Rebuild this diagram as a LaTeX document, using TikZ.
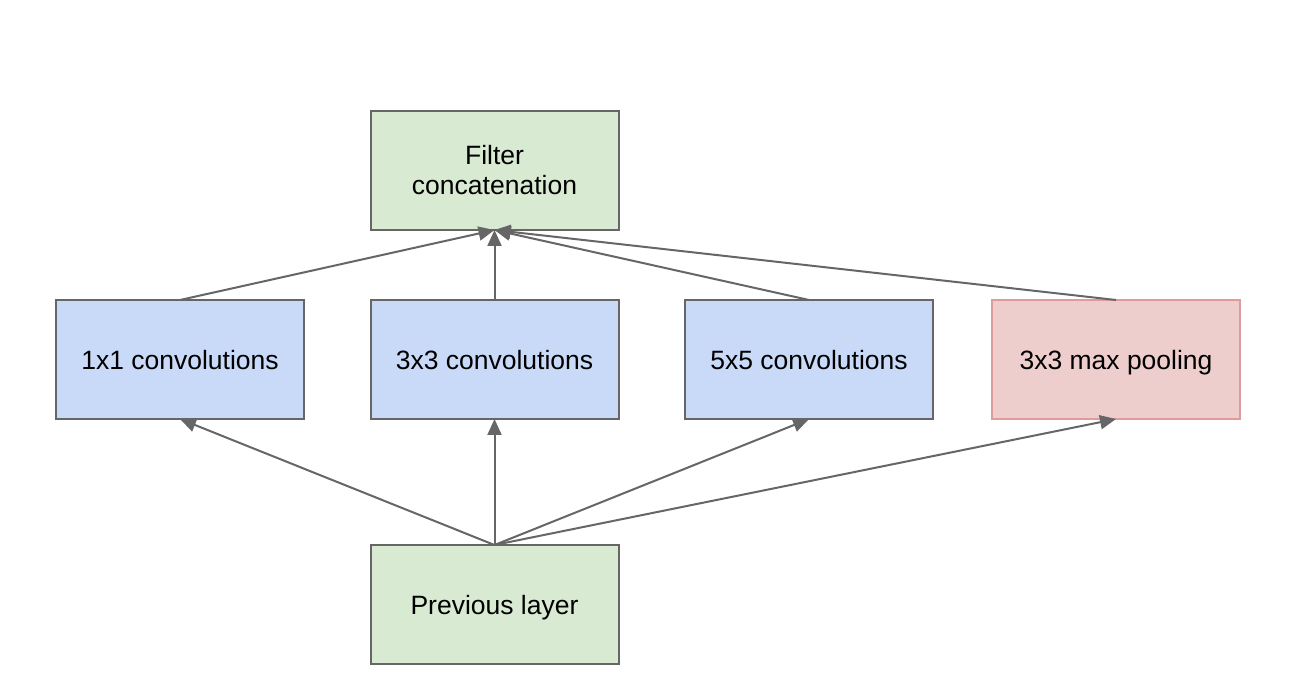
\documentclass[tikz,border=0pt]{standalone}
\usepackage{fontspec}
\setmainfont{Liberation Sans}
\usetikzlibrary{arrows.meta}
\definecolor{gfill}{HTML}{D9EAD3}
\definecolor{bfill}{HTML}{C9DAF8}
\definecolor{pfill}{HTML}{EECDCD}
\definecolor{pline}{HTML}{E09C9C}
\definecolor{gline}{HTML}{666666}
\begin{document}
\begin{tikzpicture}[x=1pt,y=-1pt,
  box/.style={draw=gline,line width=2pt,minimum width=248pt,minimum height=119pt,
    inner sep=0pt,outer sep=0pt,align=center,font=\fontsize{26.5}{30}\selectfont},
  one/.style={text height=22pt,text depth=2pt},
  conn/.style={draw=gline,line width=2pt,-{Triangle[length=16pt,width=14pt]}}]
\useasboundingbox (0,0) rectangle (1296,700);
\node[box,fill=gfill] (fc) at (494.5,170.5) {Filter\\concatenation};
\node[box,one,fill=bfill] (c1) at (180,359.5) {1x1 convolutions};
\node[box,one,fill=bfill] (c3) at (494.5,359.5) {3x3 convolutions};
\node[box,one,fill=bfill] (c5) at (809,359.5) {5x5 convolutions};
\node[box,one,fill=pfill,draw=pline] (mp) at (1116,359.5) {3x3 max pooling};
\node[box,one,fill=gfill] (prev) at (494.5,604.5) {Previous layer};
\foreach \n in {c1,c3,c5,mp}{
  \draw[conn] (prev.north) -- (\n.south);
  \draw[conn] (\n.north) -- (fc.south);
}
\end{tikzpicture}
\end{document}
